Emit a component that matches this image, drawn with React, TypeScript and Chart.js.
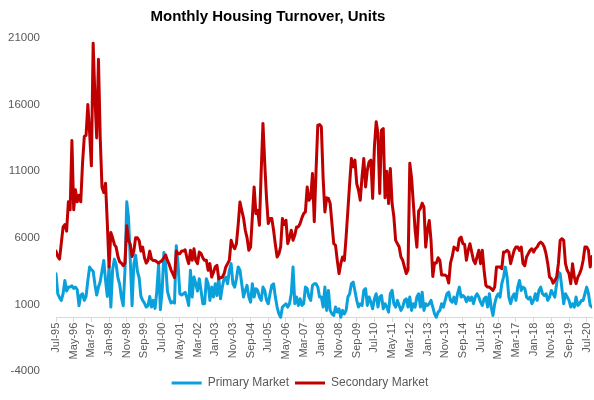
import React, { useEffect, useRef } from 'react';
import { Chart, registerables } from 'chart.js';

Chart.register(...registerables);

const TITLE = 'Monthly Housing Turnover, Units';
const seriesNames = ['Primary Market', 'Secondary Market'];
const seriesColors = ['#0AA0DC', '#C00000'];

// one label every 10 months, starting Jul-95
const tickLabels = [
  'Jul-95', 'May-96', 'Mar-97', 'Jan-98', 'Nov-98', 'Sep-99', 'Jul-00', 'May-01',
  'Mar-02', 'Jan-03', 'Nov-03', 'Sep-04', 'Jul-05', 'May-06', 'Mar-07', 'Jan-08',
  'Nov-08', 'Sep-09', 'Jul-10', 'May-11', 'Mar-12', 'Jan-13', 'Nov-13', 'Sep-14',
  'Jul-15', 'May-16', 'Mar-17', 'Jan-18', 'Nov-18', 'Sep-19', 'Jul-20',
];

const yMin = -4000;
const yMax = 21000;
const yStep = 5000;

// monthly values, Jul-95 .. Oct-20
const primaryMarket = [
  3300, 1800, 1500, 1300, 1800, 2800, 2000, 2300, 2300, 2400, 2200, 2300,
  2100, 900, 1700, 1800, 1300, 1600, 2800, 3800, 3600, 3500, 2500, 1700,
  2300, 2700, 3500, 4300, 2800, 1600, 3900, 800, 3600, 4400, 4000, 3000,
  2500, 1500, 900, 3600, 8700, 7500, 4300, 900, 4000, 4700, 3500, 3000,
  1600, 1300, 1100, 800, 900, 1600, 800, 1300, 700, 2000, 4000, 600,
  2000, 4900, 4000, 2000, 1500, 1100, 1200, 1100, 5400, 4000, 1800, 1700,
  1800, 1900, 1500, 920, 3560, 1550, 3050, 2550, 2000, 2930, 2050, 1050,
  1050, 2930, 2550, 1300, 2300, 1550, 2550, 1670, 3050, 1420, 2300, 2930,
  3050, 2550, 3560, 4060, 2550, 2300, 2930, 3810, 3560, 2550, 1550, 2050,
  2430, 1550, 1170, 2550, 1550, 2180, 2050, 1550, 1300, 2300, 2050, 1300,
  1050, 1800, 2430, 2550, 1550, 800, 290, 40, 800, 920, 1050, 800,
  1050, 1800, 3810, 1050, 1550, 920, 1420, 920, 1050, 2300, 2180, 1550,
  1300, 2430, 2550, 2550, 2300, 1550, 1550, 800, 2300, 550, 2050, 550,
  290, 170, 800, 420, 670, 40, 550, 290, 550, 1550, 1800, 2550,
  2680, 2000, 1300, 800, 1050, 920, 2050, 2180, 920, 1550, 1170, 670,
  1420, 1800, 800, 1550, 1670, 670, 1050, 800, 420, 1800, 2050, 1050,
  800, 1300, 920, 550, 800, 1300, 1420, 800, 1550, 550, 1050, 800,
  1550, 1800, 800, 1920, 550, 1050, 920, 1050, 1300, 800, 290, 40,
  420, 550, 1050, 800, 1300, 1800, 1920, 1300, 1170, 1550, 1050, 1800,
  2300, 1550, 1670, 1550, 1200, 1550, 1300, 1550, 1050, 1550, 1800, 1550,
  1170, 920, 1420, 1550, 800, 1800, 800, 170, 1050, 1550, 1800, 1550,
  2550, 3050, 3800, 3050, 1550, 1050, 1550, 1800, 1300, 2300, 2800, 2050,
  2300, 2200, 1550, 1420, 1550, 1050, 1300, 1800, 1300, 2050, 2300, 1800,
  1670, 1800, 1300, 1550, 2050, 1800, 1550, 2550, 3430, 3310, 2180, 1050,
  1800, 1550, 1300, 800, 1050, 800, 1550, 920, 1050, 1300, 1300, 1800,
  2300, 1800, 920, 800,
];

const secondaryMarket = [
  5000, 4600, 4400, 5600, 6800, 7000, 6500, 8700, 8100, 13300, 8100, 9600,
  8700, 9200, 8700, 11600, 13600, 13700, 16000, 13900, 11400, 20600, 16600, 13500,
  19400, 13500, 9800, 9400, 10100, 7100, 3800, 6400, 6000, 5500, 5300, 4600,
  4200, 4100, 3900, 4100, 6900, 5800, 5500, 4600, 5000, 6000, 6000, 5800,
  5000, 5300, 4500, 4100, 4300, 5000, 4400, 4300, 4300, 4200, 4100, 4200,
  4300, 4500, 4700, 4300, 4000, 3600, 3300, 3000, 5000, 4800, 4800, 5000,
  5000, 5100, 4500, 4060, 5060, 4310, 5180, 4300, 4060, 4930, 4810, 4500,
  4310, 4310, 3560, 4060, 3050, 3400, 3810, 3930, 2930, 3000, 3050, 3300,
  3810, 4060, 4310, 5810, 5400, 5180, 5560, 7000, 8690, 8070, 7500, 6565,
  6000, 5060, 5310, 7570, 9820, 7820, 8070, 6940, 11000, 14590, 11580, 9000,
  7070, 7440, 7440, 6565, 5500, 4560, 4800, 5310, 7440, 7000, 7320, 5560,
  6000, 6565, 5810, 6200, 6820, 6820, 7070, 7500, 7820, 7950, 9820, 8820,
  9000, 10830, 7200, 11000, 14460, 14500, 14340, 10500, 7940, 9000, 8950, 8570,
  7070, 5560, 5440, 4310, 3310, 4060, 4560, 4310, 6060, 8070, 10070, 11960,
  11330, 11830, 10070, 9570, 8820, 10570, 11960, 9820, 11080, 11700, 11830, 8950,
  12830, 14710, 13830, 9320, 14080, 14200, 9000, 11000, 8570, 11200, 8570, 7570,
  5810, 5560, 5310, 4560, 4310, 3800, 3310, 3600, 11600, 10500, 8600, 6600,
  5300, 8000, 8200, 8600, 8300, 5300, 6600, 7300, 5800, 3100, 4100, 4100,
  4500, 4300, 3200, 3200, 3200, 3100, 2600, 4100, 4600, 5300, 5180, 5060,
  5930, 6060, 5560, 5500, 4310, 5060, 5560, 4930, 4310, 4060, 4560, 5060,
  4060, 5060, 3560, 2430, 2300, 2300, 2180, 2050, 2300, 3800, 3800, 3800,
  3680, 4930, 4930, 5060, 4930, 4060, 4560, 5060, 5310, 5310, 5060, 5310,
  4060, 3900, 4560, 4810, 5060, 5180, 4930, 5180, 5310, 5560, 5680, 5560,
  5310, 4810, 4060, 3050, 2930, 2600, 2800, 3050, 4060, 5810, 5930, 5810,
  4060, 3560, 3310, 2560, 4060, 3050, 2560, 3050, 3310, 3680, 4310, 5310,
  5310, 5060, 3800, 4600,
];

const FONT = '"Liberation Sans", Arial, Helvetica, sans-serif';

const titlePlugin = {
  id: 'excelTitle',
  afterDraw(chart: any) {
    const { ctx } = chart;
    ctx.save();
    ctx.font = `bold 15px ${FONT}`;
    ctx.fillStyle = '#000000';
    ctx.textAlign = 'center';
    ctx.textBaseline = 'alphabetic';
    ctx.fillText(TITLE, chart.width * 0.451, 21);
    ctx.restore();
  },
};

export default function App() {
  const canvasRef = useRef<HTMLCanvasElement | null>(null);

  useEffect(() => {
    if (!canvasRef.current) return;
    Chart.defaults.font.family = FONT;
    const toPoints = (arr: number[]) => arr.map((y, x) => ({ x, y }));
    const chart = new Chart(canvasRef.current, {
      type: 'line',
      data: {
        datasets: [
          {
            label: seriesNames[0],
            data: toPoints(primaryMarket),
            borderColor: seriesColors[0],
            backgroundColor: seriesColors[0],
            borderWidth: 3,
            pointRadius: 0,
            tension: 0,
            borderJoinStyle: 'round',
            borderCapStyle: 'round',
            order: 1,
          },
          {
            label: seriesNames[1],
            data: toPoints(secondaryMarket),
            borderColor: seriesColors[1],
            backgroundColor: seriesColors[1],
            borderWidth: 3,
            pointRadius: 0,
            tension: 0,
            borderJoinStyle: 'round',
            borderCapStyle: 'round',
            order: 0,
          },
        ],
      },
      options: {
        animation: false,
        responsive: true,
        maintainAspectRatio: false,
        devicePixelRatio: 1,
        events: [],
        layout: { padding: { top: 38, left: 8, right: 2, bottom: 1 } },
        plugins: {
          title: { display: false },
          tooltip: { enabled: false },
          legend: {
            position: 'bottom',
            labels: {
              usePointStyle: true,
              pointStyle: 'line',
              pointStyleWidth: 30,
              padding: 6,
              color: '#595959',
              font: { size: 12 },
              sort: (a: any, b: any) => a.datasetIndex - b.datasetIndex,
            },
          },
        },
        scales: {
          x: {
            type: 'linear',
            position: { y: 0 } as any,
            min: 0,
            max: secondaryMarket.length - 1,
            grid: {
              display: true,
              drawOnChartArea: false,
              drawTicks: true,
              tickLength: 4,
              color: '#d9d9d9',
            },
            border: { display: true, color: '#d9d9d9', width: 1 },
            afterFit: (scale: any) => {
              scale.paddingLeft = 0;
              scale.paddingRight = 0;
            },
            ticks: {
              stepSize: 10,
              autoSkip: false,
              includeBounds: false,
              maxRotation: 90,
              minRotation: 90,
              padding: 1,
              color: '#595959',
              font: { size: 11 },
              callback: (v: any) => {
                const i = Math.round(Number(v) / 10);
                return Number(v) % 10 === 0 && tickLabels[i] ? tickLabels[i] : '';
              },
            },
          },
          y: {
            type: 'linear',
            min: yMin,
            max: yMax,
            grid: { display: false, drawTicks: false },
            border: { display: false },
            afterFit: (scale: any) => {
              scale.width = 48;
            },
            ticks: {
              stepSize: yStep,
              padding: 16,
              color: '#595959',
              font: { size: 11.5 },
              callback: (v: any) => String(v),
            },
          },
        },
      },
      plugins: [titlePlugin],
    } as any);
    return () => chart.destroy();
  }, []);

  return (
    <div style={{ position: 'absolute', left: 0, top: 0, width: 594, height: 400, background: '#fff' }}>
      <canvas ref={canvasRef} />
    </div>
  );
}
